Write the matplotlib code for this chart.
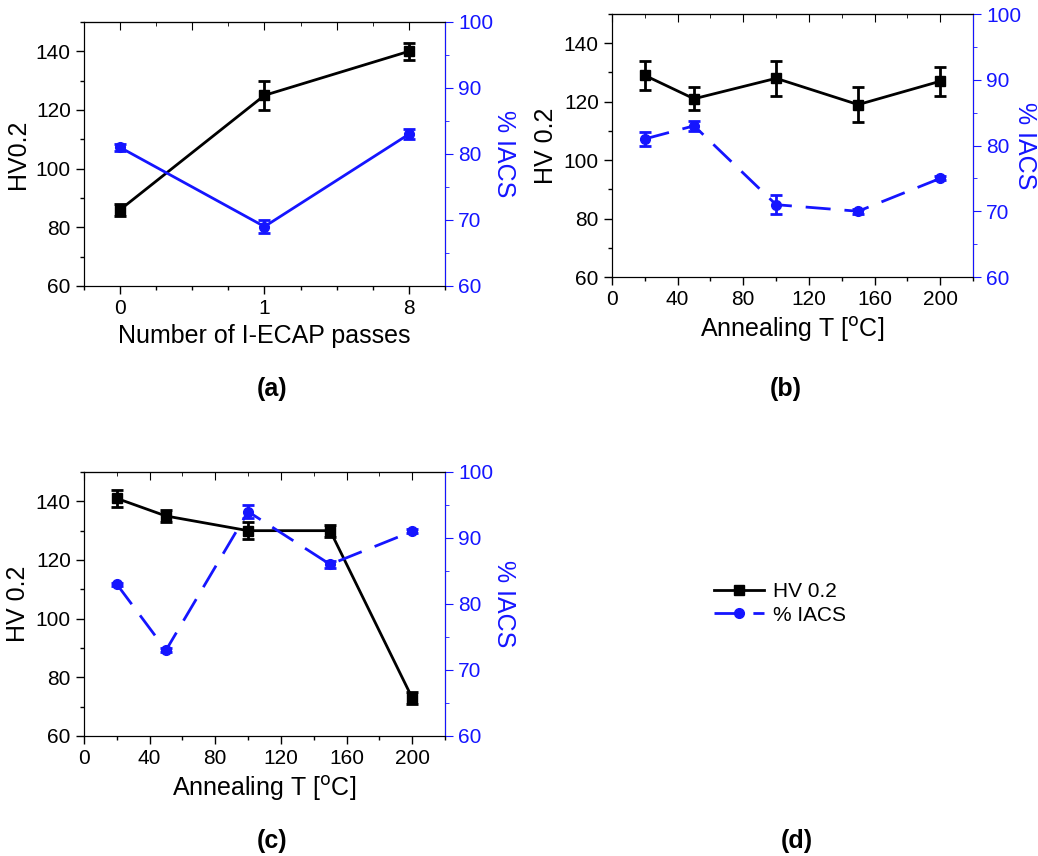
import matplotlib.pyplot as plt
from matplotlib.ticker import MultipleLocator
from matplotlib.lines import Line2D

# (a) I-ECAP passes
passes = ['0', '1', '8']
hv_a = [86, 125, 140]
hv_a_err = [2, 5, 3]
iacs_a = [81, 69, 83]
iacs_a_err = [0.5, 1.0, 0.8]

# (b) annealing
temp_b = [20, 50, 100, 150, 200]
hv_b = [129, 121, 128, 119, 127]
hv_b_err = [5, 4, 6, 6, 5]
iacs_b = [81, 83, 71, 70, 75]
iacs_b_err = [1.0, 0.8, 1.4, 0.4, 0.3]

# (c) annealing
temp_c = [20, 50, 100, 150, 200]
hv_c = [141, 135, 130, 130, 73]
hv_c_err = [3, 2, 3, 2, 2]
iacs_c = [83, 73, 94, 86, 91]
iacs_c_err = [0.2, 0.3, 1.0, 0.5, 0.3]

BLUE = '#1515ff'
DASH = (0, (9, 5))
plt.rcParams['font.family'] = ['Liberation Sans', 'DejaVu Sans']

fig = plt.figure(figsize=(10.38, 8.56), dpi=100)


def panel(rect, x, hv, hv_err, iacs, iacs_err, hv_label, xlabel, dashed,
          xlim, xmajor, xminor, xticklabels=None, rpad=14):
    ax = fig.add_axes(rect)
    ax.errorbar(x, hv, yerr=hv_err, color='black', marker='s', ms=7,
                lw=2, elinewidth=2, capsize=4, capthick=2)
    ax.set_ylim(60, 150)
    ax.set_xlim(*xlim)
    ax.yaxis.set_major_locator(MultipleLocator(20))
    ax.yaxis.set_minor_locator(MultipleLocator(10))
    ax.xaxis.set_major_locator(MultipleLocator(xmajor))
    ax.xaxis.set_minor_locator(MultipleLocator(xminor))
    if xticklabels is not None:
        ax.set_xticks(range(len(xticklabels)))
        ax.set_xticklabels(xticklabels)
    ax.tick_params(which='both', direction='out', labelsize=15, width=1)
    ax.tick_params(which='major', length=6)
    ax.tick_params(which='minor', length=3)
    ax.set_ylabel(hv_label, fontsize=18)
    ax.set_xlabel(xlabel, fontsize=18)
    top = ax.secondary_xaxis('top')
    top.xaxis.set_major_locator(MultipleLocator(xminor * 2 if xticklabels is not None else xmajor))
    top.xaxis.set_minor_locator(MultipleLocator(xminor))
    top.tick_params(which='both', direction='in', labeltop=False)
    top.tick_params(which='major', length=6)
    top.tick_params(which='minor', length=3)

    ax2 = ax.twinx()
    ls = DASH if dashed else '-'
    ax2.errorbar(x, iacs, yerr=iacs_err, color=BLUE, marker='o', ms=7,
                 lw=2, ls=ls, elinewidth=2, capsize=4, capthick=2)
    ax2.set_ylim(60, 100)
    ax2.yaxis.set_major_locator(MultipleLocator(10))
    ax2.yaxis.set_minor_locator(MultipleLocator(5))
    ax2.tick_params(which='both', direction='out', colors=BLUE, labelsize=15)
    ax2.tick_params(which='major', length=6)
    ax2.tick_params(which='minor', length=3)
    ax2.spines['right'].set_color(BLUE)
    ax2.set_ylabel('% IACS', color=BLUE, fontsize=18, rotation=270, labelpad=rpad)
    return ax, ax2


xa = list(range(len(passes)))
panel([0.0809, 0.6659, 0.3478, 0.3084], xa, hv_a, hv_a_err, iacs_a, iacs_a_err,
      'HV0.2', 'Number of I-ECAP passes', False, (-0.25, 2.25), 1, 0.25,
      xticklabels=passes, rpad=16)
panel([0.5896, 0.6764, 0.3478, 0.3072], temp_b, hv_b, hv_b_err, iacs_b, iacs_b_err,
      'HV 0.2', r'Annealing T [$^{\rm o}$C]', True, (0, 220), 40, 20, rpad=11)
panel([0.0809, 0.1402, 0.3478, 0.3084], temp_c, hv_c, hv_c_err,
      iacs_c, iacs_c_err, 'HV 0.2', r'Annealing T [$^{\rm o}$C]',
      True, (0, 220), 40, 20, rpad=16)

handles = [Line2D([], [], color='black', marker='s', ms=7, lw=2),
           Line2D([], [], color=BLUE, marker='o', ms=7, lw=2, ls=DASH)]
fig.legend(handles, ['HV 0.2', '% IACS'], loc='center left',
           bbox_to_anchor=(0.67, 0.295), frameon=False, fontsize=15,
           handlelength=2.4, handletextpad=0.4, labelspacing=0.2)

for txt, x, y in [('(a)', 0.262, 0.545), ('(b)', 0.757, 0.545),
                  ('(c)', 0.262, 0.018), ('(d)', 0.768, 0.018)]:
    fig.text(x, y, txt, fontsize=18, fontweight='bold', ha='center', va='center')

fig.savefig('out.png', dpi=100)
